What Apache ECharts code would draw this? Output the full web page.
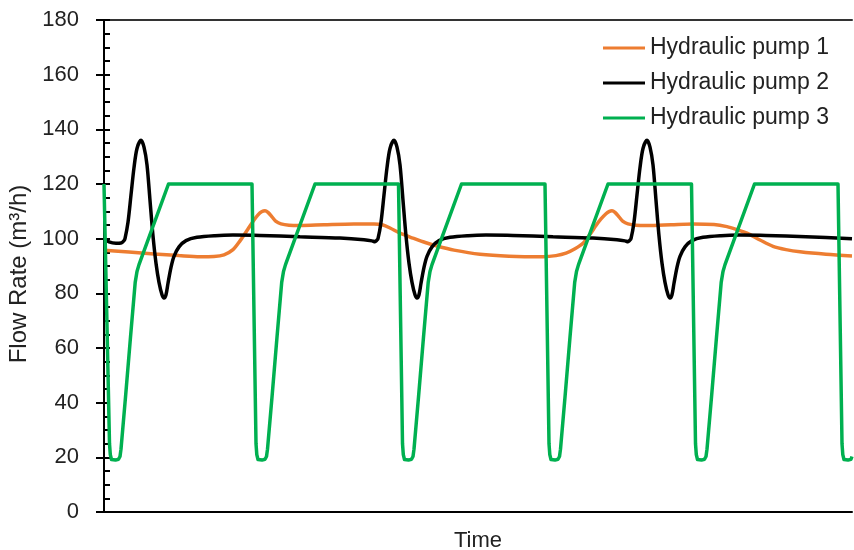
<!DOCTYPE html>
<html>
<head>
<meta charset="utf-8">
<script src="https://cdn.jsdelivr.net/npm/echarts@6/dist/echarts.min.js"></script>
<style>
html,body{margin:0;padding:0;background:#fff;}
#chart{width:854px;height:550px;}
</style>
</head>
<body>
<div id="chart"></div>
<script>
// Time axis in arbitrary units (no tick labels on the reference)
const timeMax = 748;
const seriesNames = ['Hydraulic pump 1', 'Hydraulic pump 2', 'Hydraulic pump 3'];
const yTicks = [0, 20, 40, 60, 80, 100, 120, 140, 160, 180];

// [time, flow rate m3/h]
const pump1 = [
  [0,95.8],[25,95.1],[50,94.4],[75,93.8],[96,93.4],[110,93.5],[120,94.1],[129,96],[136,99.2],[143,103],
  [149,106.3],[154,108.7],[158,109.9],[161,110.2],[164,109.6],[168,108],[172,106.3],[177,105.4],[185,104.9],
  [196,104.8],[220,105.1],[250,105.4],[270,105.4],[279,105],[286,103.9],[296,102],[309,100.2],[322,98.5],
  [333,97.3],[350,95.8],[376,94.3],[405,93.6],[439,93.4],[452,93.8],[462,94.7],[471,96.3],[479,98.3],
  [486,101.6],[492,104.8],[497,107.2],[502,109.1],[505,109.9],[508,110.2],[511,109.6],[515,108],[519,106.3],
  [524,105.4],[532,104.9],[543,104.8],[567,105.1],[589,105.4],[610,105.2],[623,104.4],[633,103.3],[643,102],
  [656,99.5],[669,97.2],[682,96],[696,95.2],[722,94.3],[748,93.7]
];

const pump2 = [
  [0,100],[5,98.8],[12,98.3],[17,98.4],[20,99.3],[21,100],[24,106],[27,116],[30,126],[33,133],[37,136],
  [40,133.5],[43,127],[46,114],[49,101],[52,91],[55,84],[58,79.5],[60,78.3],[62,79.5],[64,83.7],[67,89.5],
  [70,93.5],[75,97],[82,99.3],[93,100.5],[111,101.1],[129,101.3],[156,101.2],[196,100.7],[236,100.2],
  [260,99.6],[268,99.2],[271,98.9],[272.5,99.3],[274,100],
  [277,106],[280,116],[283,126],[286,133],[290,136],[293,133.5],[296,127],[299,114],[302,101],[305,91],
  [308,84],[311,79.5],[313,78.3],[315,79.5],[317,83.7],[320,89.5],[323,93.5],[328,97],[335,99.3],[346,100.5],
  [364,101.1],[382,101.3],[409,101.2],[449,100.7],[489,100.2],[513,99.6],[521,99.2],[524,98.9],[525.5,99.3],
  [527,100],
  [530,106],[533,116],[536,126],[539,133],[543,136],[546,133.5],[549,127],[552,114],[555,101],[558,91],
  [561,84],[564,79.5],[566,78.3],[568,79.5],[570,83.7],[573,89.5],[576,93.5],[581,97],[588,99.3],[599,100.5],
  [617,101.1],[635,101.3],[662,101.2],[702,100.7],[748,100.0]
];

const pump3 = [
  [0,120],[1.5,120],[5.5,25],[6.3,21],[7.5,19.2],[11.5,19],[14.5,19.3],[16,20.3],[17,23],[21.5,42],[26.5,64],
  [31.2,84],[33,88],[35,90.5],[37,92.5],[64.5,120],
  [148,120],[152,25],[152.8,21],[154,19.2],[158,19],[161,19.3],[162.5,20.3],[163.5,23],[168,42],[173,64],
  [177.7,84],[179.5,88],[181.5,90.5],[183.5,92.5],[211,120],
  [294.5,120],[298.5,25],[299.3,21],[300.5,19.2],[304.5,19],[307.5,19.3],[309,20.3],[310,23],[314.5,42],
  [319.5,64],[324.2,84],[326,88],[328,90.5],[330,92.5],[357.5,120],
  [441,120],[445,25],[445.8,21],[447,19.2],[451,19],[454,19.3],[455.5,20.3],[456.5,23],[461,42],[466,64],
  [470.7,84],[472.5,88],[474.5,90.5],[476.5,92.5],[504,120],
  [587.5,120],[591.5,25],[592.3,21],[593.5,19.2],[597.5,19],[600.5,19.3],[602,20.3],[603,23],[607.5,42],
  [612.5,64],[617.2,84],[619,88],[621,90.5],[623,92.5],[650.5,120],
  [734,120],[738,25],[738.8,21],[740,19.2],[744,19],[747,19.3],[748,20.3]
];

const colors = ['#ED7D31', '#000000', '#00B050'];
const fontFam = '"Liberation Sans", Arial, sans-serif';
const textColor = '#222222';

const chart = echarts.init(document.getElementById('chart'), null, {renderer: 'canvas'});
chart.setOption({
  animation: false,
  backgroundColor: '#ffffff',
  textStyle: {fontFamily: fontFam},
  grid: {left: 104, right: 2, top: 20, bottom: 38, containLabel: false, outerBoundsMode: 'none'},
  legend: {
    data: seriesNames,
    orient: 'vertical',
    left: 598,
    top: 30,
    icon: 'rect',
    itemWidth: 42,
    itemHeight: 3,
    itemGap: 9,
    textStyle: {fontSize: 23, color: textColor, fontFamily: fontFam, lineHeight: 26}
  },
  xAxis: [{
    type: 'value',
    min: 0,
    max: timeMax,
    position: 'bottom',
    name: 'Time',
    nameLocation: 'middle',
    nameGap: 18,
    nameTextStyle: {fontSize: 22, color: textColor, fontFamily: fontFam},
    axisLine: {show: true, onZero: false, lineStyle: {color: '#000', width: 2}},
    axisTick: {show: false},
    axisLabel: {show: false},
    splitLine: {show: false}
  }, {
    type: 'value',
    min: 0,
    max: timeMax,
    position: 'top',
    axisLine: {show: true, onZero: false, lineStyle: {color: '#333', width: 2}},
    axisTick: {show: false},
    axisLabel: {show: false},
    splitLine: {show: false}
  }],
  yAxis: [{
    type: 'value',
    min: 0,
    max: 180,
    interval: 20,
    position: 'left',
    name: 'Flow Rate (m³/h)',
    nameLocation: 'middle',
    nameGap: 64,
    nameTextStyle: {fontSize: 24, color: textColor, fontFamily: fontFam, padding: [0, 16, 0, 0]},
    axisLine: {show: true, onZero: false, lineStyle: {color: '#000', width: 2}},
    axisTick: {show: true, inside: false, length: 8, lineStyle: {color: '#000', width: 2}},
    axisLabel: {show: true, margin: 25, fontSize: 22, color: textColor, fontFamily: fontFam,
      formatter: function (v) { return yTicks.indexOf(v) >= 0 ? String(v) : ''; }},
    splitLine: {show: false}
  }, {
    type: 'value',
    min: 0,
    max: 180,
    interval: 20,
    position: 'left',
    axisLine: {show: false, onZero: false},
    axisTick: {show: true, inside: true, length: 6, lineStyle: {color: '#000', width: 2}},
    minorTick: {show: true, splitNumber: 4, length: 6, lineStyle: {color: '#000', width: 2}},
    axisLabel: {show: false},
    splitLine: {show: false}
  }],
  series: [{
    name: seriesNames[0],
    type: 'line',
    data: pump1,
    symbol: 'none',
    smooth: 0.3,
    lineStyle: {color: colors[0], width: 3.5},
    itemStyle: {color: colors[0]},
    z: 2
  }, {
    name: seriesNames[1],
    type: 'line',
    data: pump2,
    symbol: 'none',
    smooth: 0.3,
    lineStyle: {color: colors[1], width: 3.5},
    itemStyle: {color: colors[1]},
    z: 3
  }, {
    name: seriesNames[2],
    type: 'line',
    data: pump3,
    symbol: 'none',
    smooth: false,
    lineStyle: {color: colors[2], width: 3.5, join: 'round'},
    itemStyle: {color: colors[2]},
    z: 4
  }]
});
</script>
</body>
</html>
